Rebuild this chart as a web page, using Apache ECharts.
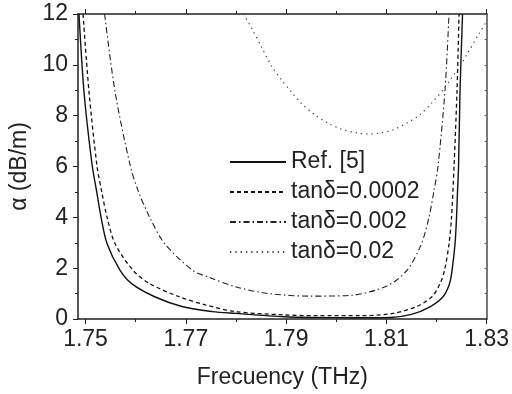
<!DOCTYPE html>
<html>
<head>
	<meta charset="UTF-8">
	<title>alpha vs frecuency</title>
	<script src="https://cdn.jsdelivr.net/npm/echarts@6/dist/echarts.min.js"></script>
	<style>
		html, body { margin: 0; padding: 0; background: #fff; }
	</style>
</head>
<body>
	<div id="chart1" style="width: 512px;height: 394px;"></div>
<script type="text/javascript">
	// series names (legend)
	var names = ['Ref. [5]', 'tan\u03b4=0.0002', 'tan\u03b4=0.002', 'tan\u03b4=0.02'];

	// Ref. [5]
	var refFreq = [1.7487, 1.7497, 1.7513, 1.7522, 1.7531, 1.7543, 1.7569, 1.7592, 1.7638, 1.7694, 1.7753, 1.7799, 1.7897, 1.7950, 1.8030, 1.8108, 1.8150, 1.8187, 1.8213, 1.8226, 1.8231, 1.8237, 1.8240, 1.8242, 1.8244, 1.8247, 1.8252];
	var refAlpha = [12.0, 8.93, 6.08, 5.04, 4.0, 2.96, 1.91, 1.39, 0.875, 0.48, 0.29, 0.22, 0.09, 0.06, 0.05, 0.06, 0.18, 0.48, 0.875, 1.39, 1.91, 2.96, 4.0, 5.04, 6.0, 9.0, 12.0];

	// tan d = 0.0002
	var t1Freq = [1.7495, 1.7507, 1.7523, 1.7532, 1.7543, 1.7559, 1.7595, 1.7628, 1.7687, 1.7740, 1.7799, 1.7897, 1.7960, 1.8050, 1.8113, 1.8159, 1.8191, 1.8207, 1.8216, 1.8225, 1.8230, 1.8235, 1.8241, 1.8245];
	var t1Alpha = [12.0, 8.93, 6.0, 5.04, 4.0, 2.96, 1.91, 1.39, 0.875, 0.55, 0.29, 0.16, 0.13, 0.13, 0.22, 0.48, 0.875, 1.39, 1.91, 2.96, 4.0, 6.0, 9.0, 12.0];

	// tan d = 0.002
	var t2Freq = [1.7538, 1.7559, 1.7589, 1.7605, 1.7628, 1.7658, 1.7714, 1.7745, 1.7799, 1.7865, 1.7950, 1.8029, 1.8101, 1.8141, 1.8170, 1.8185, 1.8195, 1.8203, 1.8217, 1.8225];
	var t2Alpha = [12.0, 8.93, 6.05, 5.04, 4.0, 2.96, 1.91, 1.65, 1.27, 1.0, 0.90, 0.93, 1.3, 1.91, 2.96, 4.0, 5.04, 6.0, 9.0, 12.0];

	// tan d = 0.02
	var t3Freq = [1.7815, 1.7832, 1.7851, 1.7872, 1.7891, 1.7910, 1.7930, 1.7957, 1.7983, 1.8009, 1.8042, 1.8068, 1.8088, 1.8114, 1.8141, 1.8167, 1.8190, 1.8213, 1.8229, 1.8245, 1.8262, 1.8285, 1.8300];
	var t3Alpha = [12.0, 11.42, 10.70, 9.92, 9.40, 8.95, 8.49, 8.04, 7.71, 7.48, 7.32, 7.28, 7.32, 7.45, 7.71, 8.04, 8.49, 9.01, 9.45, 9.9, 10.45, 11.23, 11.7];

	// tick labels
	var xMajor = [1.75, 1.77, 1.79, 1.81, 1.83];
	var xMinor = [1.76, 1.78, 1.80, 1.82];

	function zip(a, b) {
		var out = [];
		for (var i = 0; i < a.length; i++) out.push([a[i], b[i]]);
		return out;
	}

	var chart1 = echarts.init(document.getElementById("chart1"));
	var ink = '#222';
	var font = 'Liberation Sans, Arial, sans-serif';
	var fs = 23;
	var xMin = 1.7485, xMax = 1.83;

	function lineSeries(name, data, type, width, color) {
		return {
			name: name,
			type: 'line',
			data: data,
			symbol: 'none',
			smooth: 0.3,
			animation: false,
			lineStyle: { color: color, width: width, type: type },
			itemStyle: { color: color }
		};
	}

	var option = {
		backgroundColor: '#fff',
		grid: { left: 74, right: 24, top: 14, bottom: 73 },
		legend: {
			orient: 'vertical',
			left: 224,
			top: 145,
			itemWidth: 56,
			itemHeight: 12,
			itemGap: 6,
			data: names,
			itemStyle: { opacity: 0 },
			textStyle: { fontSize: fs, color: ink, fontFamily: font, lineHeight: 24 }
		},
		xAxis: [{
			type: 'value', min: xMin, max: xMax, position: 'bottom',
			name: 'Frecuency (THz)', nameLocation: 'middle', nameGap: 47,
			nameTextStyle: { fontSize: fs, color: ink, fontFamily: font },
			axisLine: { lineStyle: { color: ink, width: 1.5 } },
			axisTick: { customValues: xMajor, length: 5, lineStyle: { color: ink } },
			axisLabel: {
				customValues: xMajor, fontSize: fs, color: ink, fontFamily: font, margin: 9,
				formatter: function (v) { return v.toFixed(2); }
			},
			splitLine: { show: false }
		}, {
			type: 'value', min: xMin, max: xMax, position: 'bottom',
			axisLine: { show: false },
			axisTick: { customValues: xMinor, length: 3, lineStyle: { color: ink } },
			axisLabel: { show: false },
			splitLine: { show: false }
		}, {
			type: 'value', min: xMin, max: xMax, position: 'top',
			axisLine: { lineStyle: { color: ink, width: 1.5 } },
			axisTick: { customValues: xMajor, length: 5, lineStyle: { color: ink } },
			axisLabel: { show: false },
			splitLine: { show: false }
		}, {
			type: 'value', min: xMin, max: xMax, position: 'top',
			axisLine: { show: false },
			axisTick: { customValues: xMinor, length: 3, lineStyle: { color: ink } },
			axisLabel: { show: false },
			splitLine: { show: false }
		}],
		yAxis: [{
			type: 'value', min: 0, max: 12, interval: 2, position: 'left',
			name: '\u03b1 (dB/m)', nameLocation: 'middle', nameGap: 47, nameRotate: 90,
			nameTextStyle: { fontSize: fs, color: ink, fontFamily: font },
			axisLine: { show: true, lineStyle: { color: ink, width: 1.5 } },
			axisTick: { show: true, length: 5, lineStyle: { color: ink } },
			minorTick: { show: true, splitNumber: 2, length: 3, lineStyle: { color: ink } },
			axisLabel: { fontSize: fs, color: ink, fontFamily: font, margin: 10 },
			splitLine: { show: false }
		}, {
			type: 'value', min: 0, max: 12, interval: 1, position: 'right',
			axisLine: { show: true, lineStyle: { color: '#777', width: 2 } },
			axisTick: { show: true, inside: true, length: 2, lineStyle: { color: '#555' } },
			axisLabel: { show: false },
			splitLine: { show: false }
		}],
		series: [
			lineSeries(names[0], zip(refFreq, refAlpha), 'solid', 1.4, '#111'),
			lineSeries(names[1], zip(t1Freq, t1Alpha), [4, 3], 1.3, '#111'),
			lineSeries(names[2], zip(t2Freq, t2Alpha), [6, 3, 1.5, 3], 1.1, '#222'),
			lineSeries(names[3], zip(t3Freq, t3Alpha), [1.3, 4], 1.2, '#444')
		]
	};

	chart1.setOption(option);
</script>
</body>
</html>
